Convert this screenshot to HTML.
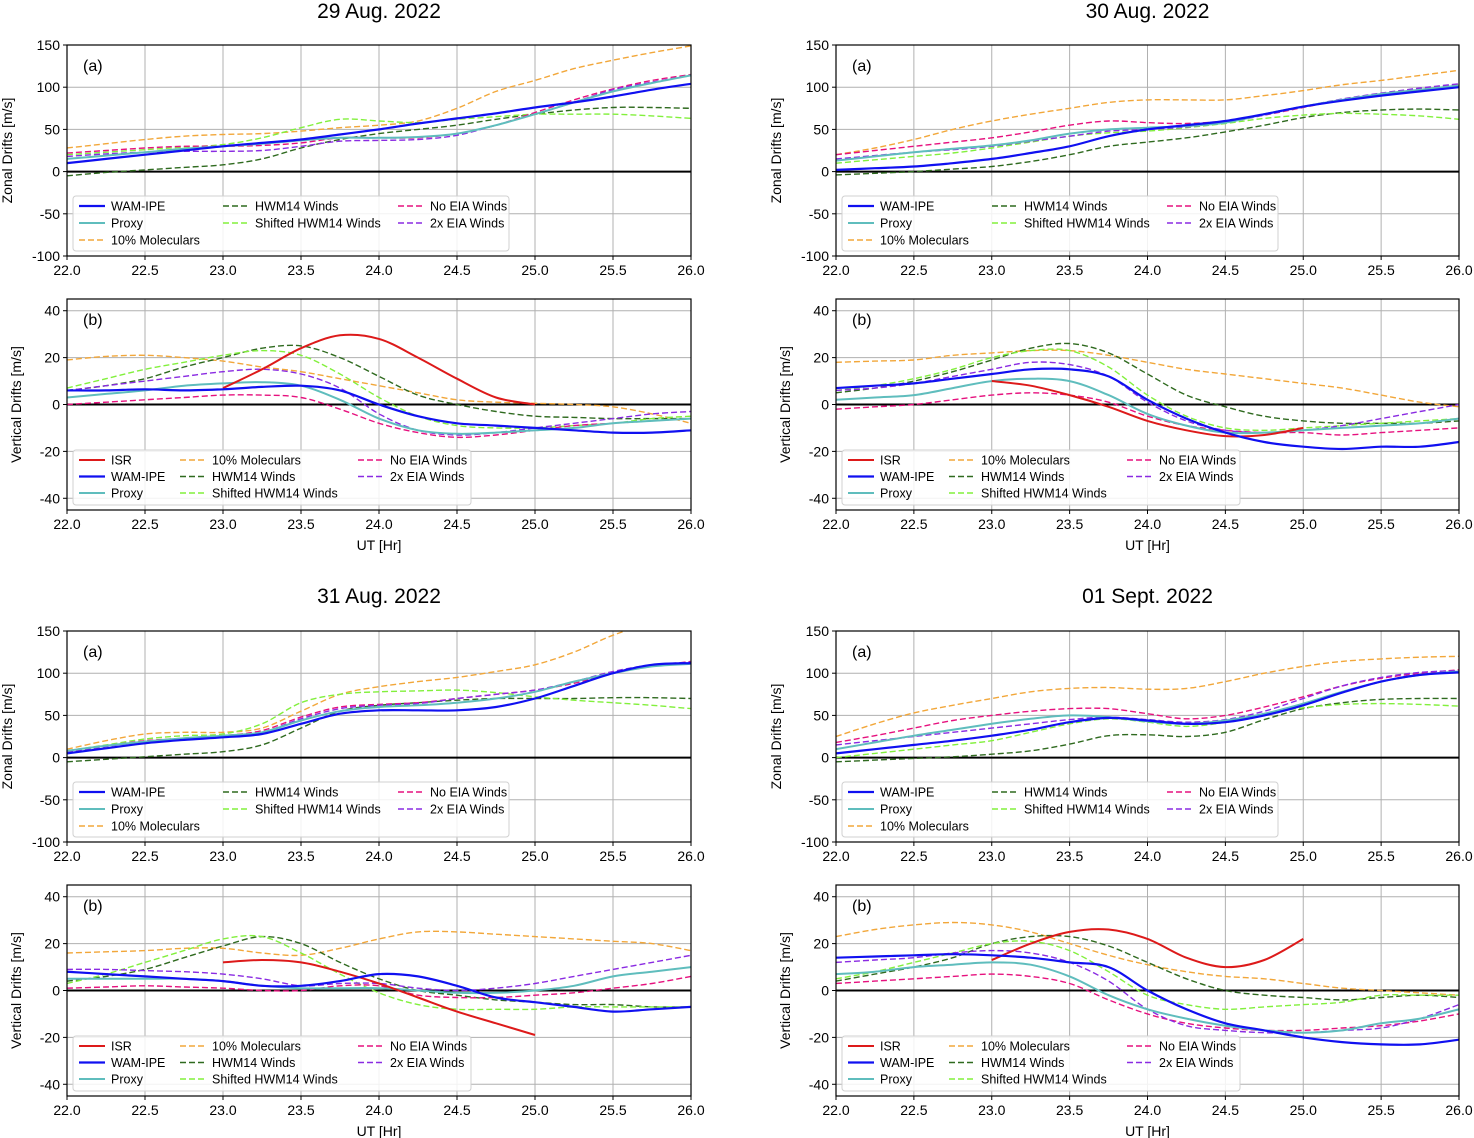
<!DOCTYPE html>
<html><head><meta charset="utf-8"><style>
body{margin:0;background:#fff}
svg{display:block;font-family:"Liberation Sans","DejaVu Sans",sans-serif}
</style></head><body>
<svg id="chart" width="1474" height="1138" viewBox="0 0 1474 1138" xmlns="http://www.w3.org/2000/svg"></svg>
<script>
// x samples (UT hours)
const xs=[22,22.25,22.5,22.75,23,23.25,23.5,23.75,24,24.25,24.5,24.75,25,25.25,25.5,25.75,26];
const isrX=[23,23.25,23.5,23.75,24,24.25,24.5,24.75,25];
const zonalTicks=[150,100,50,0,-50,-100];
const vertTicks=[40,20,0,-20,-40];
const xTicks=[22,22.5,23,23.5,24,24.5,25,25.5,26];
const dayTitles=["29 Aug. 2022","30 Aug. 2022","31 Aug. 2022","01 Sept. 2022"];

// 29 Aug zonal
const z1Wam=[10,15,20,25,30,34,38,44,50,57,63,69,76,82,89,97,104];
const z1Proxy=[15,19,23,27,30,33,37,40,40,41,45,55,68,82,95,105,114];
const z1Mol=[28,33,38,42,44,45,48,52,55,60,75,95,108,122,132,141,149];
const z1Hwm=[-5,-1,2,5,8,15,28,38,45,50,55,62,68,73,76,76,75];
const z1Shift=[20,23,26,29,32,40,52,62,60,58,62,65,68,68,68,66,63];
const z1NoEia=[22,25,28,30,30,31,34,40,40,40,45,55,70,85,98,108,115];
const z1TwoEia=[18,21,23,24,24,25,30,36,37,38,43,55,68,82,97,106,114];
// 29 Aug vertical
const v1Isr=[7,15,24,29.5,28,20,11,3,0];
const v1Wam=[6,6,6.5,6,6.5,7.5,8,6,0,-5,-8,-9,-10,-11,-12,-12,-11];
const v1Proxy=[3,4.5,6,8,9,9.5,8,2,-6,-11,-12.5,-12,-11,-10,-8,-7,-6];
const v1Mol=[19,20.5,21,20,18.5,16,14,11,8,5,2,1,0.5,0,-1,-4,-8];
const v1Hwm=[6,8,11,16,20,24,25,20,12,4,0,-3,-5,-5.5,-6,-6,-6];
const v1Shift=[7,11,15,18,21,23,21,13,3,-5,-9,-10,-10,-9,-8,-6,-5];
const v1NoEia=[0,1,2,3,4,4,3,-2,-8,-12,-14,-13,-11,-9,-8,-7,-6];
const v1TwoEia=[6,8,10,12,14,15,13,7,-4,-11,-13,-12,-10,-8,-6,-4,-3];

// 30 Aug zonal
const z2Wam=[2,4,6,10,15,22,30,42,50,55,60,68,77,84,90,95,100];
const z2Proxy=[13,18,23,27,31,37,45,50,52,54,58,68,77,85,92,97,102];
const z2Mol=[20,28,38,50,60,68,75,82,85,85,85,90,96,103,108,114,120];
const z2Hwm=[-4,-2,0,3,6,12,20,30,35,40,47,55,64,70,73,74,73];
const z2Shift=[10,14,18,22,28,35,42,46,48,52,57,63,67,69,68,66,62];
const z2NoEia=[20,25,30,35,40,47,55,60,58,57,60,67,76,85,92,98,103];
const z2TwoEia=[15,19,23,26,30,36,42,48,50,53,58,67,77,86,93,99,104];
// 30 Aug vertical
const v2Isr=[10,8,4,-1,-7,-11,-13.5,-13,-10];
const v2Wam=[7,8,9,11,13,15,15,12,2,-6,-12,-16,-18,-19,-18,-18,-16];
const v2Proxy=[2,3,4,7,10,11,10,4,-4,-9,-12,-12,-11,-10,-9,-8,-6];
const v2Mol=[18,18.5,19,21,22,23,23,21,18,15,13,11,9,7,4,1,-1];
const v2Hwm=[5,7,10,14,19,24,26,22,13,4,-1,-5,-7,-8,-8,-8,-7];
const v2Shift=[6,8,11,15,20,23,23,16,4,-5,-10,-11,-10,-9,-8,-7,-6];
const v2NoEia=[-2,-1,0,2,4,5,4,1,-5,-9,-11,-12,-12,-13,-12,-11,-10];
const v2TwoEia=[6,7,9,12,15,18,17,12,1,-7,-11,-12,-11,-9,-6,-3,0];

// 31 Aug zonal
const z3Wam=[5,11,17,21,24,28,40,52,56,56,56,60,70,85,100,110,112];
const z3Proxy=[8,14,19,23,26,30,44,55,60,62,65,70,78,90,100,108,111];
const z3Mol=[10,20,28,30,30,35,55,75,84,90,95,102,110,125,145,160,172];
const z3Hwm=[-5,-2,1,4,7,15,35,55,62,65,68,70,70,70,71,71,70];
const z3Shift=[8,15,22,26,28,40,65,75,78,79,80,77,72,68,65,62,58];
const z3NoEia=[7,14,20,23,26,32,48,60,63,65,70,75,80,88,100,108,114];
const z3TwoEia=[6,13,19,22,25,30,46,58,62,64,70,75,80,90,102,110,113];
// 31 Aug vertical
const v3Isr=[12,13,12,8,3,-3,-9,-14,-19];
const v3Wam=[8,7,6,5,4,2,2,4,7,6,2,-3,-5,-7,-9,-8,-7];
const v3Proxy=[5,5,5,5,4,2,1,1,1,0,-1,-1,0,2,6,8,10];
const v3Mol=[16,16.5,17,18,18,16,15,18,22,25,25,24,23,22,21,20,17];
const v3Hwm=[4,6,9,14,19,23,20,12,5,0,-2,-4,-5,-6,-6,-7,-7];
const v3Shift=[3,7,12,17,22,23,16,7,-1,-6,-8,-8,-8,-7,-7,-7,-7];
const v3NoEia=[1,1.5,2,1.5,1,0,0,2,2,-2,-3,-3,-2,-1,1,3,6];
const v3TwoEia=[9,9,8.5,8,7,5,2,3,3,1,0,1,3,6,9,12,15];

// 01 Sept zonal
const z4Wam=[5,10,15,20,26,33,42,47,44,40,42,50,62,77,90,98,101];
const z4Proxy=[10,18,26,33,40,46,50,48,43,40,44,52,64,78,90,98,102];
const z4Mol=[25,40,53,62,70,78,82,83,81,82,90,100,108,114,117,119,120];
const z4Hwm=[-5,-3,-1,1,4,8,16,26,27,25,30,45,58,65,69,70,70];
const z4Shift=[0,5,10,15,20,30,40,46,42,37,42,52,59,63,64,63,61];
const z4NoEia=[18,26,35,44,50,55,58,58,52,46,50,60,72,85,94,100,104];
const z4TwoEia=[15,20,25,30,35,40,45,48,45,42,45,55,70,85,95,101,103];
// 01 Sept vertical
const v4Isr=[13,20,25,26,22,14,10,13,22];
const v4Wam=[14,14.5,15,15.5,15,14,12,10,0,-8,-14,-17,-20,-22,-23,-23,-21];
const v4Proxy=[7,8,10,11,12,11,6,-2,-8,-12,-15,-17,-18,-17,-14,-12,-8];
const v4Mol=[23,26,28,29,28,25,20,15,11,8,6,5,3,1,0,-1,-2];
const v4Hwm=[4,7,10,14,20,23,23,19,12,5,0,-2,-3,-4,-3,-2,-3];
const v4Shift=[5,8,12,16,20,21,17,8,-2,-6,-8,-7,-6,-5,-2,-2,-2];
const v4NoEia=[3,4,5,6,7,6,3,-4,-10,-14,-16,-17,-17,-16,-15,-13,-10];
const v4TwoEia=[12,13,14,16,17,16,12,4,-8,-15,-17,-18,-18,-17,-16,-12,-6];

const NS="http://www.w3.org/2000/svg";
const svg=document.getElementById('chart');
function el(t,a,p){const e=document.createElementNS(NS,t);for(const k in a)e.setAttribute(k,a[k]);(p||svg).appendChild(e);return e;}
const ST={
 isr:{c:"#dd1a1a",d:"",w:2,label:"ISR"},
 wam:{c:"#1010f0",d:"",w:2.2,label:"WAM-IPE"},
 proxy:{c:"#5fbdbd",d:"",w:2,label:"Proxy"},
 mol:{c:"#f2a73a",d:"6,3",w:1.4,label:"10% Moleculars"},
 hwm:{c:"#2f6a1f",d:"6,3",w:1.4,label:"HWM14 Winds"},
 shift:{c:"#82f03c",d:"6,3",w:1.4,label:"Shifted HWM14 Winds"},
 noeia:{c:"#e6117e",d:"6,3",w:1.4,label:"No EIA Winds"},
 twoeia:{c:"#8a2be2",d:"6,3",w:1.4,label:"2x EIA Winds"}
};
function smooth(pts){let d="M"+pts[0][0]+","+pts[0][1];
 for(let i=0;i<pts.length-1;i++){const p0=pts[Math.max(i-1,0)],p1=pts[i],p2=pts[i+1],p3=pts[Math.min(i+2,pts.length-1)];
 const c1=[p1[0]+(p2[0]-p0[0])/6,p1[1]+(p2[1]-p0[1])/6],c2=[p2[0]-(p3[0]-p1[0])/6,p2[1]-(p3[1]-p1[1])/6];
 d+=" C"+c1[0].toFixed(1)+","+c1[1].toFixed(1)+" "+c2[0].toFixed(1)+","+c2[1].toFixed(1)+" "+p2[0].toFixed(1)+","+p2[1].toFixed(1);}return d;}
let cid=0;
function panel(x0,x1,y0,y1,ymin,ymax,ticks,ylabel,series,vertical,name,showXLabel){
 const g=el('g',{});
 
 
 const sx=v=>x0+(v-22)/4*(x1-x0), sy=v=>y1-(v-ymin)/(ymax-ymin)*(y1-y0);
 xTicks.forEach(t=>{const l=el('line',{x1:sx(t),x2:sx(t),y1:y0,y2:y1,stroke:"#b0b0b0","stroke-width":1},g);
  
  el('line',{x1:sx(t),x2:sx(t),y1:y1,y2:y1+4,stroke:"#000"},g);
  const tx=el('text',{x:sx(t),y:y1+19,"font-size":14,"text-anchor":"middle",fill:"#000"},g);tx.textContent=t.toFixed(1);
  });
 ticks.forEach(t=>{const l=el('line',{x1:x0,x2:x1,y1:sy(t),y2:sy(t),stroke:"#b0b0b0","stroke-width":1},g);
  
  el('line',{x1:x0-4,x2:x0,y1:sy(t),y2:sy(t),stroke:"#000"},g);
  const tx=el('text',{x:x0-7,y:sy(t)+5,"font-size":14,"text-anchor":"end",fill:"#000"},g);tx.textContent=t;
  });
 const zl=el('line',{x1:x0,x2:x1,y1:sy(0),y2:sy(0),stroke:"#000","stroke-width":2},g);
 
 const id="clip"+(cid++);const cp=el('clipPath',{id:id},g);el('rect',{x:x0,y:y0,width:x1-x0,height:y1-y0},cp);
 const sg=el('g',{"clip-path":"url(#"+id+")"},g);
 const order=["mol","hwm","shift","noeia","twoeia","proxy","isr","wam"];
 order.forEach(k=>{const s=series[k];if(!s)return;const xv=k==="isr"?isrX:xs;
  const pts=s.map((v,i)=>[sx(xv[i]),sy(v)]);
  const p=el('path',{d:smooth(pts),fill:"none",stroke:ST[k].c,"stroke-width":ST[k].w,"stroke-dasharray":ST[k].d},sg);
  });
 const fr=el('rect',{x:x0,y:y0,width:x1-x0,height:y1-y0,fill:"none",stroke:"#000","stroke-width":1.2},g);
 
 const pl=el('text',{x:x0+16,y:y0+26,"font-size":16,fill:"#000"},g);pl.textContent=vertical?"(b)":"(a)";
 
 const yc=(y0+y1)/2, lx=vertical?x0-46:x0-55;
 const yl=el('text',{x:lx,y:yc,"font-size":14,"text-anchor":"middle",transform:"rotate(-90 "+lx+" "+yc+")"},g);yl.textContent=ylabel;
 
 if(showXLabel){const xl=el('text',{x:(x0+x1)/2,y:y1+40,"font-size":14,"text-anchor":"middle"},g);xl.textContent="UT [Hr]";
  }
 // legend
 let cols,lw,lh,ly,rowh;
 if(vertical){cols=[["isr","wam","proxy"],["mol","hwm","shift"],["noeia","twoeia"]];lw=398;lh=55;ly=y1-60;rowh=16.5;}
 else{cols=[["wam","proxy","mol"],["hwm","shift"],["noeia","twoeia"]];lw=436;lh=55;ly=y1-60;rowh=17;}
 const lg=el('g',{},g);
 el('rect',{x:x0+6,y:ly,width:lw,height:lh,fill:"#fff","fill-opacity":0.85,stroke:"#d0d0d0",rx:3},lg);
 const cx=vertical?[x0+12,x0+113,x0+291]:[x0+12,x0+156,x0+331];
 cols.forEach((c,ci)=>c.forEach((k,ri)=>{const yy=ly+10+ri*rowh;
  const e=el('g',{},lg);
  el('line',{x1:cx[ci],x2:cx[ci]+26,y1:yy,y2:yy,stroke:ST[k].c,"stroke-width":ST[k].w,"stroke-dasharray":ST[k].d},e);
  const t=el('text',{x:cx[ci]+32,y:yy+4.5,"font-size":12.5,fill:"#000"},e);t.textContent=ST[k].label;}));
}
const L=[67,691],R=[836,1459];
const rows=[{z:[45,256],v:[299,510],t:10},{z:[631,842],v:[885,1096],t:595}];
const data=[
 {z:{wam:z1Wam,proxy:z1Proxy,mol:z1Mol,hwm:z1Hwm,shift:z1Shift,noeia:z1NoEia,twoeia:z1TwoEia},v:{isr:v1Isr,wam:v1Wam,proxy:v1Proxy,mol:v1Mol,hwm:v1Hwm,shift:v1Shift,noeia:v1NoEia,twoeia:v1TwoEia}},
 {z:{wam:z2Wam,proxy:z2Proxy,mol:z2Mol,hwm:z2Hwm,shift:z2Shift,noeia:z2NoEia,twoeia:z2TwoEia},v:{isr:v2Isr,wam:v2Wam,proxy:v2Proxy,mol:v2Mol,hwm:v2Hwm,shift:v2Shift,noeia:v2NoEia,twoeia:v2TwoEia}},
 {z:{wam:z3Wam,proxy:z3Proxy,mol:z3Mol,hwm:z3Hwm,shift:z3Shift,noeia:z3NoEia,twoeia:z3TwoEia},v:{isr:v3Isr,wam:v3Wam,proxy:v3Proxy,mol:v3Mol,hwm:v3Hwm,shift:v3Shift,noeia:v3NoEia,twoeia:v3TwoEia}},
 {z:{wam:z4Wam,proxy:z4Proxy,mol:z4Mol,hwm:z4Hwm,shift:z4Shift,noeia:z4NoEia,twoeia:z4TwoEia},v:{isr:v4Isr,wam:v4Wam,proxy:v4Proxy,mol:v4Mol,hwm:v4Hwm,shift:v4Shift,noeia:v4NoEia,twoeia:v4TwoEia}}
];
data.forEach((d,i)=>{const r=rows[Math.floor(i/2)],c=i%2?R:L;
 const t=el('text',{x:(c[0]+c[1])/2,y:r.t+8,"font-size":21,"text-anchor":"middle",fill:"#000"});t.textContent=dayTitles[i];
 
 panel(c[0],c[1],r.z[0],r.z[1],-100,150,zonalTicks,"Zonal Drifts [m/s]",d.z,false,"zonal-drift-panel",false);
 panel(c[0],c[1],r.v[0],r.v[1],-45,45,vertTicks,"Vertical Drifts [m/s]",d.v,true,"vertical-drift-panel",true);
});
</script>
</body></html>
